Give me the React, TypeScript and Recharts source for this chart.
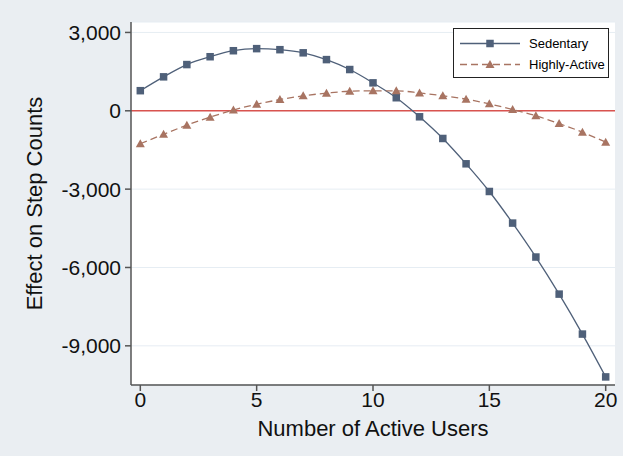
import {
  CartesianGrid,
  Line,
  LineChart,
  ReferenceLine,
  XAxis,
  YAxis,
} from 'recharts';

const users = [0, 1, 2, 3, 4, 5, 6, 7, 8, 9, 10, 11, 12, 13, 14, 15, 16, 17, 18, 19, 20];
const sedentary = [
  770, 1300, 1770, 2070, 2300, 2380, 2340, 2220, 1960, 1580, 1070, 500, -230, -1060, -2030,
  -3090, -4300, -5600, -7020, -8550, -10190,
];
const highlyActive = [
  -1260, -900, -550, -245, 30, 250, 430, 575, 675, 750, 765, 765, 685, 575, 445, 265, 50,
  -190, -490, -820, -1200,
];
const xTicks = [0, 5, 10, 15, 20];
const yTicks = [-9000, -6000, -3000, 0, 3000];

const SED_COLOR = '#4f6079';
const HA_COLOR = '#a87462';
const FONT = 'Liberation Sans, Arial, sans-serif';

const data = users.map((u, i) => ({ users: u, sedentary: sedentary[i], highlyActive: highlyActive[i] }));

const fmt = (v: number) => v.toLocaleString('en-US');

function Square(props: any) {
  const { cx, cy } = props;
  if (cx == null || cy == null) return null;
  return <rect x={cx - 3.75} y={cy - 3.75} width={7.5} height={7.5} fill={SED_COLOR} />;
}

function Triangle(props: any) {
  const { cx, cy } = props;
  if (cx == null || cy == null) return null;
  return (
    <polygon
      points={`${cx},${cy - 4.5} ${cx - 4.5},${cy + 3.5} ${cx + 4.5},${cy + 3.5}`}
      fill={HA_COLOR}
    />
  );
}

function LegendBox() {
  return (
    <div
      style={{
        position: 'absolute',
        left: 453,
        top: 28,
        width: 154,
        height: 48,
        background: '#fff',
        border: '1px solid #222',
        fontFamily: FONT,
        fontSize: 13,
        color: '#111',
      }}
    >
      <svg width={154} height={48} style={{ display: 'block' }}>
        <line x1={6} x2={66} y1={14.5} y2={14.5} stroke={SED_COLOR} strokeWidth={1.3} />
        <rect x={32.25} y={10.75} width={7.5} height={7.5} fill={SED_COLOR} />
        <text x={75} y={19}>Sedentary</text>
        <line
          x1={6}
          x2={66}
          y1={35.5}
          y2={35.5}
          stroke={HA_COLOR}
          strokeWidth={1.3}
          strokeDasharray="7 4"
        />
        <polygon points="36,31 31.5,39 40.5,39" fill={HA_COLOR} />
        <text x={75} y={40}>Highly-Active</text>
      </svg>
    </div>
  );
}

export default function App() {
  return (
    <div
      style={{
        position: 'absolute',
        left: 0,
        top: 0,
        width: 623,
        height: 456,
        background: '#eaeef2',
        fontFamily: FONT,
      }}
    >
      <LineChart
        width={623}
        height={456}
        data={data}
        margin={{ top: 22, right: 8, bottom: 8, left: 0 }}
      >
        <CartesianGrid vertical={false} fill="#fff" stroke="#e6edf3" strokeWidth={1} />
        <XAxis
          dataKey="users"
          type="number"
          domain={[-0.4, 20.4]}
          ticks={xTicks}
          height={63}
          stroke="#555"
          strokeWidth={1.5}
          tickSize={6}
          tickMargin={1}
          tick={{ fill: '#111', fontSize: 21 }}
          label={{
            value: 'Number of Active Users',
            position: 'insideBottom',
            offset: 12,
            fill: '#111',
            fontSize: 22,
          }}
        />
        <YAxis
          type="number"
          domain={[-10500, 3400]}
          ticks={yTicks}
          width={131}
          stroke="#555"
          strokeWidth={1.5}
          tickSize={6}
          tickMargin={4}
          tickFormatter={fmt}
          tick={{ fill: '#111', fontSize: 21 }}
          label={{
            value: 'Effect on Step Counts',
            angle: -90,
            position: 'insideLeft',
            offset: 34,
            style: { textAnchor: 'middle' },
            fill: '#111',
            fontSize: 22,
          }}
        />
        <ReferenceLine y={0} stroke="#d9534f" strokeWidth={1.5} />
        <Line
          dataKey="sedentary"
          name="Sedentary"
          type="monotone"
          stroke={SED_COLOR}
          strokeWidth={1.3}
          dot={<Square />}
          activeDot={false}
          isAnimationActive={false}
        />
        <Line
          dataKey="highlyActive"
          name="Highly-Active"
          type="monotone"
          stroke={HA_COLOR}
          strokeWidth={1.3}
          strokeDasharray="7 4"
          dot={<Triangle />}
          activeDot={false}
          isAnimationActive={false}
        />
      </LineChart>
      <LegendBox />
    </div>
  );
}
